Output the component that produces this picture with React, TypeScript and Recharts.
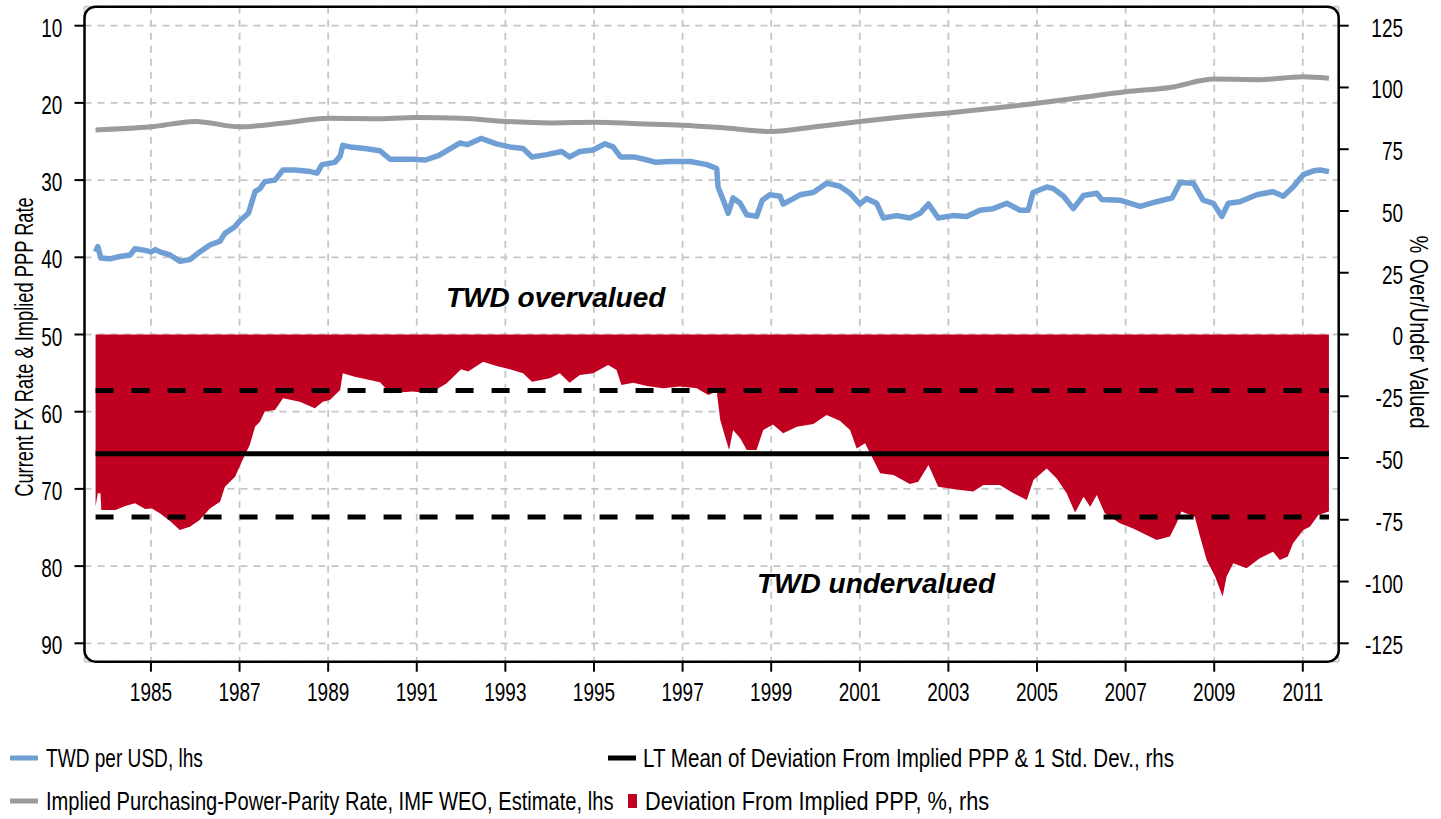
import React from 'react';
import { ComposedChart, Line, Area, XAxis, YAxis, CartesianGrid, ReferenceLine } from 'recharts';

const FONT = "'Liberation Sans', Arial, sans-serif";
const BOLD_FONT = "'Liberation Sans', Arial, sans-serif";
const TICK_SCALE = 0.73;

const X_TICKS = [1985, 1987, 1989, 1991, 1993, 1995, 1997, 1999, 2001, 2003, 2005, 2007, 2009, 2011];
const LEFT_TICKS = [10, 20, 30, 40, 50, 60, 70, 80, 90];
const RIGHT_TICKS = [125, 100, 75, 50, 25, 0, -25, -50, -75, -100, -125];

const LT_MEAN = -48.3;
const LT_UPPER = -22.7;
const LT_LOWER = -73.9;

// [year, TWD per USD]
const FX_SERIES: [number, number][] = [
  [1983.75, 39.3], [1983.8, 38.6], [1983.87, 40.1], [1984.07, 40.2], [1984.3, 39.9], [1984.53, 39.7],
  [1984.64, 38.9], [1984.87, 39.1], [1985.0, 39.3], [1985.1, 39.0], [1985.2, 39.3], [1985.43, 39.7],
  [1985.65, 40.5], [1985.88, 40.3], [1986.1, 39.3], [1986.33, 38.4], [1986.56, 37.9], [1986.67, 36.9],
  [1986.9, 36.0], [1987.0, 35.3], [1987.2, 34.3], [1987.35, 31.5], [1987.46, 31.1], [1987.57, 30.2],
  [1987.8, 30.0], [1987.98, 28.7], [1988.25, 28.7], [1988.6, 28.9], [1988.75, 29.1], [1988.86, 28.0],
  [1989.15, 27.7], [1989.27, 26.9], [1989.33, 25.5], [1989.5, 25.7], [1989.83, 25.9], [1990.17, 26.2],
  [1990.4, 27.3], [1990.9, 27.3], [1991.2, 27.4], [1991.5, 26.8], [1991.97, 25.2], [1992.15, 25.4],
  [1992.45, 24.6], [1992.8, 25.3], [1993.1, 25.7], [1993.4, 25.9], [1993.6, 27.0], [1993.93, 26.7],
  [1994.27, 26.3], [1994.45, 27.0], [1994.68, 26.3], [1994.98, 26.1], [1995.25, 25.3], [1995.43, 25.7],
  [1995.6, 27.0], [1995.9, 27.0], [1996.2, 27.4], [1996.4, 27.7], [1996.7, 27.6], [1997.17, 27.6],
  [1997.55, 28.0], [1997.77, 28.5], [1997.8, 30.9], [1997.92, 32.6], [1998.03, 34.3], [1998.14, 32.3],
  [1998.3, 33.0], [1998.45, 34.5], [1998.67, 34.7], [1998.8, 32.6], [1998.97, 31.9], [1999.2, 32.1],
  [1999.27, 33.1], [1999.5, 32.4], [1999.65, 31.9], [1999.95, 31.6], [2000.25, 30.4], [2000.55, 30.8],
  [2000.78, 31.7], [2001.0, 33.1], [2001.15, 32.4], [2001.38, 33.0], [2001.53, 34.9], [2001.83, 34.6],
  [2002.13, 34.9], [2002.36, 34.3], [2002.55, 33.1], [2002.77, 34.9], [2003.1, 34.6], [2003.41, 34.7],
  [2003.71, 33.9], [2004.01, 33.7], [2004.32, 33.0], [2004.62, 33.9], [2004.8, 33.9], [2004.91, 31.6],
  [2005.22, 30.9], [2005.37, 31.1], [2005.6, 32.1], [2005.82, 33.7], [2006.05, 32.0], [2006.35, 31.7],
  [2006.46, 32.5], [2006.87, 32.6], [2007.33, 33.4], [2007.7, 32.8], [2008.05, 32.3], [2008.23, 30.3],
  [2008.53, 30.4], [2008.75, 32.6], [2008.98, 33.0], [2009.17, 34.7], [2009.32, 33.0], [2009.58, 32.8],
  [2009.96, 31.9], [2010.33, 31.5], [2010.56, 32.1], [2010.78, 30.9], [2011.01, 29.3], [2011.24, 28.8],
  [2011.39, 28.7], [2011.59, 28.9],
];

// [year, implied PPP rate]
const PPP_SERIES: [number, number][] = [
  [1983.75, 23.5], [1985.0, 23.1], [1986.0, 22.4], [1987.0, 23.1], [1988.0, 22.6], [1989.0, 22.0],
  [1990.0, 22.05], [1991.0, 21.9], [1992.0, 22.0], [1993.0, 22.4], [1994.0, 22.6], [1995.0, 22.5],
  [1996.0, 22.7], [1997.0, 22.9], [1997.85, 23.2], [1999.0, 23.7], [2000.0, 23.1], [2001.0, 22.4],
  [2002.0, 21.8], [2003.0, 21.3], [2004.0, 20.7], [2005.0, 20.05], [2006.0, 19.3], [2007.0, 18.55],
  [2008.0, 18.0], [2009.0, 16.9], [2010.0, 17.0], [2011.0, 16.6], [2011.59, 16.8],
];

// [year, deviation from implied PPP, %]
const DEVIATION_SERIES: [number, number][] = [
  [1983.75, -69.6], [1983.8, -64.3], [1983.86, -64.3], [1983.88, -71.0], [1984.2, -71.0], [1984.42, -69.4],
  [1984.64, -68.3], [1984.87, -70.6], [1985.02, -70.4], [1985.2, -72.4], [1985.43, -75.5], [1985.65, -79.1],
  [1985.88, -77.8], [1986.1, -75.1], [1986.33, -70.4], [1986.56, -67.7], [1986.67, -61.6], [1986.9, -57.6],
  [1987.05, -51.5], [1987.23, -44.7], [1987.35, -37.3], [1987.46, -35.3], [1987.57, -31.2], [1987.8, -30.6],
  [1987.98, -25.8], [1988.36, -27.2], [1988.7, -29.9], [1988.88, -27.2], [1989.04, -26.5], [1989.27, -22.5],
  [1989.33, -15.7], [1989.6, -17.1], [1990.17, -19.3], [1990.4, -23.8], [1990.9, -23.1], [1991.3, -23.8],
  [1991.67, -19.8], [1992.0, -14.1], [1992.16, -15.0], [1992.5, -11.0], [1992.8, -12.8], [1993.1, -14.1],
  [1993.4, -15.7], [1993.6, -19.1], [1994.0, -17.7], [1994.23, -15.7], [1994.45, -19.5], [1994.68, -16.4],
  [1994.98, -15.7], [1995.32, -12.3], [1995.51, -14.4], [1995.62, -20.4], [1995.89, -19.5], [1996.19, -20.8],
  [1996.56, -21.8], [1996.94, -21.1], [1997.32, -21.8], [1997.58, -24.5], [1997.77, -23.1], [1997.85, -34.6],
  [1997.96, -41.4], [1998.05, -46.8], [1998.14, -38.7], [1998.3, -42.0], [1998.45, -46.8], [1998.67, -46.8],
  [1998.82, -38.7], [1999.04, -36.4], [1999.27, -40.0], [1999.58, -37.3], [1999.95, -36.2], [2000.25, -32.6],
  [2000.55, -34.9], [2000.78, -38.7], [2000.93, -46.1], [2001.12, -44.0], [2001.46, -56.2], [2001.76, -56.9],
  [2002.13, -60.5], [2002.32, -59.6], [2002.55, -52.8], [2002.77, -61.6], [2003.18, -62.7], [2003.56, -63.6],
  [2003.79, -60.9], [2004.16, -60.9], [2004.47, -64.3], [2004.77, -67.0], [2004.92, -58.9], [2005.22, -54.2],
  [2005.44, -58.2], [2005.67, -64.3], [2005.86, -72.1], [2006.05, -65.7], [2006.2, -69.7], [2006.35, -65.0],
  [2006.53, -72.4], [2006.87, -76.4], [2007.17, -78.5], [2007.47, -81.2], [2007.7, -83.2], [2008.0, -81.8],
  [2008.15, -76.4], [2008.26, -71.7], [2008.56, -73.8], [2008.68, -81.8], [2008.83, -91.3], [2009.02, -98.0],
  [2009.19, -106.1], [2009.28, -98.0], [2009.43, -92.6], [2009.73, -94.6], [2010.03, -90.6], [2010.33, -87.9],
  [2010.48, -91.3], [2010.66, -89.9], [2010.78, -84.5], [2011.01, -79.1], [2011.16, -77.8], [2011.35, -73.1],
  [2011.59, -71.7],
];

const LEGEND_LEFT = ['TWD per USD, lhs', 'Implied Purchasing-Power-Parity Rate, IMF WEO, Estimate, lhs'];
const LEGEND_RIGHT = ['LT Mean of Deviation From Implied PPP & 1 Std. Dev., rhs', 'Deviation From Implied PPP, %, rhs'];

const BLUE = '#6f9fd4';
const GRAY = '#9b9b9b';
const RED = '#c00021';

const toRows = (s: [number, number][]) => s.map(([x, v]) => ({ x, v }));
const fxRows = toRows(FX_SERIES);
const pppRows = toRows(PPP_SERIES);
const devRows = toRows(DEVIATION_SERIES);
const START = DEVIATION_SERIES[0][0];
const END = DEVIATION_SERIES[DEVIATION_SERIES.length - 1][0];

const XTick = (p: any) => (
  <text transform={`translate(${p.x} ${p.y + 27.6}) scale(${TICK_SCALE} 1)`} textAnchor="middle" fontFamily={FONT} fontSize={26} fill="#000">
    {p.payload.value}
  </text>
);
const LeftTick = (p: any) => (
  <text transform={`translate(${p.x - 10.2} ${p.y + 11}) scale(${TICK_SCALE} 1)`} textAnchor="end" fontFamily={FONT} fontSize={26} fill="#000">
    {p.payload.value}
  </text>
);
const RightTick = (p: any) => (
  <text transform={`translate(${p.x + 52.3} ${p.y + 11}) scale(${TICK_SCALE} 1)`} textAnchor="end" fontFamily={FONT} fontSize={26} fill="#000">
    {p.payload.value}
  </text>
);

const seg = (y: number) => [{ x: START, y }, { x: END, y }];

const LegendText = ({ x, y, sx, children }: { x: number; y: number; sx: number; children: React.ReactNode }) => (
  <text transform={`translate(${x} ${y}) scale(${sx} 1)`} fontFamily={FONT} fontSize={26} fill="#000">
    {children}
  </text>
);

export default function App() {
  return (
    <div style={{ position: 'absolute', left: 0, top: 0, width: 1441, height: 819, background: '#fff' }}>
      <ComposedChart width={1441} height={819} margin={{ top: 6.7, right: 0, bottom: 117.3, left: 0 }}>
        <CartesianGrid yAxisId="left" stroke="#c6c6c6" strokeWidth={1.8} strokeDasharray="7 6" />
        <XAxis
          dataKey="x"
          type="number"
          domain={[1983.5, 2011.81]}
          ticks={X_TICKS}
          interval={0}
          allowDataOverflow
          height={40}
          axisLine={false}
          tickSize={10}
          tickLine={{ stroke: '#000', strokeWidth: 2 }}
          tick={<XTick />}
        />
        <YAxis
          yAxisId="left"
          orientation="left"
          type="number"
          domain={[7.539, 92.383]}
          reversed
          ticks={LEFT_TICKS}
          interval={0}
          allowDataOverflow
          width={84.5}
          axisLine={false}
          tickSize={10}
          tickLine={{ stroke: '#000', strokeWidth: 2 }}
          tick={<LeftTick />}
        />
        <YAxis
          yAxisId="right"
          orientation="right"
          type="number"
          domain={[-132.45, 132.69]}
          ticks={RIGHT_TICKS}
          interval={0}
          allowDataOverflow
          width={102.3}
          axisLine={false}
          tickSize={10}
          tickLine={{ stroke: '#000', strokeWidth: 2 }}
          tick={<RightTick />}
        />
        <Area
          yAxisId="right"
          data={devRows}
          dataKey="v"
          type="linear"
          baseValue={0}
          fill={RED}
          fillOpacity={1}
          stroke="none"
          isAnimationActive={false}
        />
        <ReferenceLine yAxisId="right" segment={seg(LT_UPPER)} stroke="#000" strokeWidth={5} strokeDasharray="18 18" />
        <ReferenceLine yAxisId="right" segment={seg(LT_MEAN)} stroke="#000" strokeWidth={5} />
        <ReferenceLine yAxisId="right" segment={seg(LT_LOWER)} stroke="#000" strokeWidth={5} strokeDasharray="18 18" />
        <Line
          yAxisId="left"
          data={pppRows}
          dataKey="v"
          type="monotone"
          stroke={GRAY}
          strokeWidth={5}
          dot={false}
          isAnimationActive={false}
        />
        <Line
          yAxisId="left"
          data={fxRows}
          dataKey="v"
          type="linear"
          stroke={BLUE}
          strokeWidth={5.5}
          strokeLinejoin="round"
          dot={false}
          isAnimationActive={false}
        />
      </ComposedChart>
      <svg width={1441} height={819} style={{ position: 'absolute', left: 0, top: 0, pointerEvents: 'none' }}>
        <rect x={84.5} y={6.7} width={1254.2} height={655} rx={11} ry={11} fill="none" stroke="#000" strokeWidth={2.5} />
        <text transform="translate(33 347) rotate(-90) scale(0.704 1)" textAnchor="middle" fontFamily={FONT} fontSize={26} fill="#000">
          Current FX Rate &amp; Implied PPP Rate
        </text>
        <text transform="translate(1410 332) rotate(90) scale(0.77 1)" textAnchor="middle" fontFamily={FONT} fontSize={26} fill="#000">
          % Over/Under Valued
        </text>
        <text x={446} y={307} fontFamily={BOLD_FONT} fontWeight="bold" fontStyle="italic" fontSize={28} fill="#000">
          TWD overvalued
        </text>
        <text x={757} y={593} fontFamily={BOLD_FONT} fontWeight="bold" fontStyle="italic" fontSize={28} fill="#000">
          TWD undervalued
        </text>
        <line x1={10} y1={758} x2={38} y2={758} stroke={BLUE} strokeWidth={5} />
        <LegendText x={46} y={767} sx={0.734}>{LEGEND_LEFT[0]}</LegendText>
        <line x1={10} y1={801} x2={38} y2={801} stroke={GRAY} strokeWidth={5} />
        <LegendText x={46} y={810} sx={0.775}>{LEGEND_LEFT[1]}</LegendText>
        <line x1={608} y1={758} x2={636} y2={758} stroke="#000" strokeWidth={5} />
        <LegendText x={643} y={767} sx={0.791}>{LEGEND_RIGHT[0]}</LegendText>
        <rect x={628} y={794} width={9} height={14} fill={RED} />
        <LegendText x={645} y={810} sx={0.837}>{LEGEND_RIGHT[1]}</LegendText>
      </svg>
    </div>
  );
}
